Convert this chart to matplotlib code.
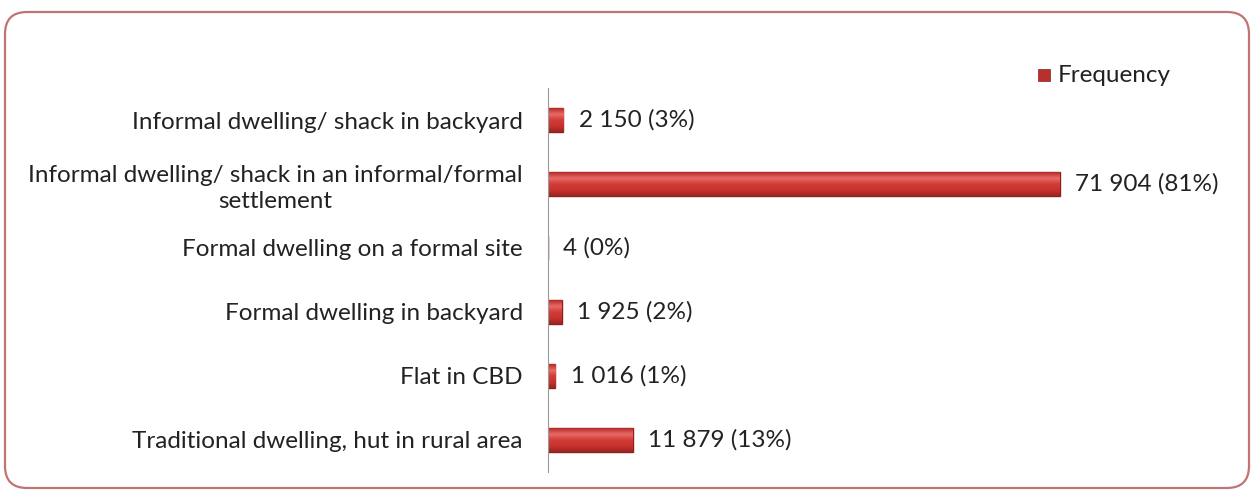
import numpy as np
import matplotlib.pyplot as plt
import matplotlib.patches as mpatches
from matplotlib.colors import LinearSegmentedColormap

# dwelling types, top to bottom
categories = ['Informal dwelling/ shack in backyard',
              'Informal dwelling/ shack in an informal/formal\nsettlement',
              'Formal dwelling on a formal site',
              'Formal dwelling in backyard',
              'Flat in CBD',
              'Traditional dwelling, hut in rural area']
frequency = [2150, 71904, 4, 1925, 1016, 11879]
percent = [3, 81, 0, 2, 1, 13]

plt.rcParams['font.family'] = ['Lato', 'DejaVu Sans']
FS = 17.5

fig = plt.figure(figsize=(12.53, 4.91), dpi=100)
ax = fig.add_axes([548/1253, 1-472/491, (1117.6-548)/1253, (472-88)/491])

# rounded outer frame, in pixel coords
frame = mpatches.FancyBboxPatch((5, 3), 1244, 476,
                                boxstyle='round,pad=0,rounding_size=22',
                                transform=None, fill=False,
                                edgecolor='#c27373', lw=1.6)
fig.patches.append(frame)

y = np.arange(len(categories))
bars = ax.barh(y, frequency, height=0.37, color='#c8342f',
               edgecolor='#8e1f1f', lw=1.0, zorder=2)

# shaded fill for a rounded-tube look
shade = LinearSegmentedColormap.from_list(
    'shade', ['#b52a26', '#e86d68', '#d23c37', '#c8332e', '#9c2420'])
grad = np.linspace(0, 1, 64).reshape(-1, 1)
for b in bars:
    x0, y0 = b.get_x(), b.get_y()
    w, h = b.get_width(), b.get_height()
    if w < 50:
        continue
    im = ax.imshow(grad, cmap=shade, aspect='auto', zorder=2.5,
                   extent=[x0, x0 + w, y0 + h, y0], interpolation='bicubic')
    im.set_clip_path(b)

for yi, v, p in zip(y, frequency, percent):
    txt = f'{v:,}'.replace(',', ' ') + f' ({p}%)'
    ax.annotate(txt, (v, yi), xytext=(11, 0), textcoords='offset points',
                va='center', ha='left', fontsize=FS, color='#222222')

ax.set_xlim(0, 80000)
ax.set_ylim(len(categories) - 0.5, -0.5)
ax.set_yticks(y)
ax.set_yticklabels(categories, fontsize=FS, color='#222222',
                   multialignment='center', linespacing=1.3)
ax.tick_params(axis='y', length=0, pad=18)
ax.set_xticks([])
for s in ['top', 'right', 'bottom']:
    ax.spines[s].set_visible(False)
ax.spines['left'].set_color('#9a9a9a')

# legend
fig.patches.append(mpatches.Rectangle((1038, 491-81), 12, 12, transform=None,
                                      facecolor='#b8302c', edgecolor='#8e1f1f', lw=0.5))
fig.text(1058/1253, 1-75/491, 'Frequency', fontsize=FS, va='center',
         ha='left', color='#222222')

fig.savefig('out.png', dpi=100)
